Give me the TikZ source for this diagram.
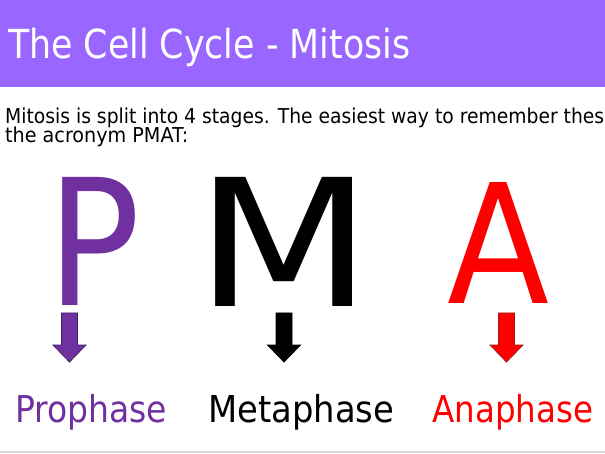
\documentclass[tikz,border=0pt]{standalone}
\usepackage{fontspec}
\setmainfont{DejaVu Sans}
\definecolor{headpurple}{HTML}{9966FF}
\definecolor{prophase}{HTML}{7030A0}
\definecolor{prophaseline}{HTML}{3A2160}
\definecolor{anaphase}{HTML}{FF0000}
\definecolor{anaphaseline}{HTML}{A01818}
\definecolor{rulegray}{HTML}{D5D9DD}
\tikzset{
  txt/.style={inner sep=0pt,anchor=base west},
  bigletter/.style={inner sep=0pt,anchor=north west},
  downblock/.pic={\path[pic actions] (-8,0) -- (8,0) -- (8,32) -- (16.5,32)
      -- (0,49) -- (-16.5,32) -- (-8,32) -- cycle;}
}

\begin{document}
\begin{tikzpicture}[x=1pt,y=-1pt]
            \useasboundingbox (0,0) rectangle (605,454);
            % header band
            \fill[headpurple] (0,0) rectangle (605,87);
            \node[txt,text=white,font=\fontsize{40}{48}\selectfont] (title) at (8,59)
                {\resizebox{402pt}{\height}{The Cell Cycle - Mitosis}};
            % intro text
            \node[txt,font=\fontsize{20.5}{24}\selectfont] (line1) at (5,124)
                {\resizebox{599pt}{\height}{Mitosis is split into 4 stages. The easiest way to remember thes}};
            \node[txt,font=\fontsize{20.5}{24}\selectfont] (line2) at (5,143)
                {\resizebox{183pt}{\height}{the acronym PMAT:}};
            % the big letters
            \node[bigletter,text=prophase] (P) at (47,177) {\resizebox{93pt}{128pt}{P}};
            \node[bigletter] (M) at (195,177) {\resizebox{177pt}{129pt}{M}};
            \node[bigletter,text=anaphase] (A) at (447,182) {\resizebox{102pt}{121pt}{A}};
            % arrows down to the stages
            \foreach \x/\c/\d in {69.5/prophase/prophaseline,284/black/black,506.5/anaphase/anaphaseline}
                \pic[fill=\c,draw=\d,line width=0.8pt] at (\x,313) {downblock};
            \node[txt,text=prophase,font=\fontsize{37}{44}\selectfont] (pro) at (15,422)
                {\resizebox{152pt}{\height}{Prophase}};
            \node[txt,font=\fontsize{37}{44}\selectfont] (meta) at (208,422)
                {\resizebox{186pt}{\height}{Metaphase}};
            \node[txt,text=anaphase,font=\fontsize{37}{44}\selectfont] (ana) at (432,422)
                {\resizebox{161pt}{\height}{Anaphase}};
            \draw[rulegray,line width=2pt] (0,452) -- (605,452);
        \end{tikzpicture}
\end{document}
